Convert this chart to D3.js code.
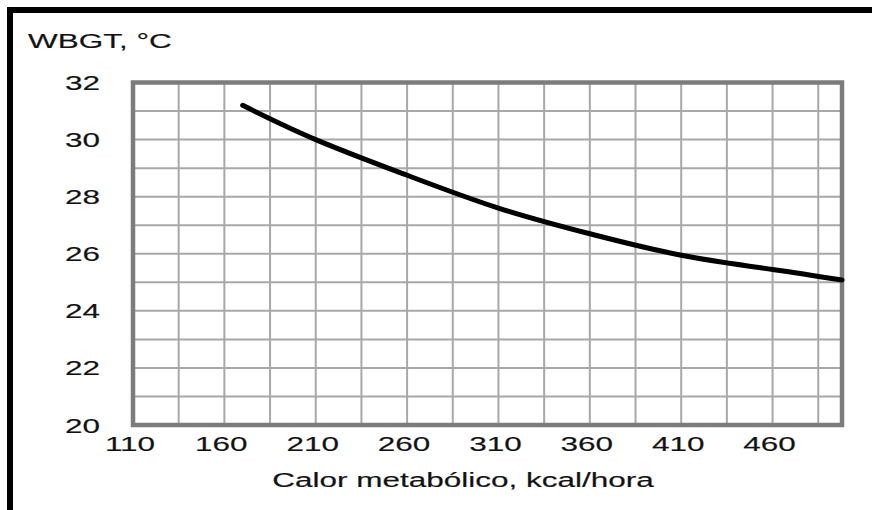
<!DOCTYPE html>
<html>
<head>
<meta charset="utf-8">
<script src="https://cdn.jsdelivr.net/npm/d3@7"></script>
<style>
  html, body { margin: 0; padding: 0; background: #ffffff; }
  svg { display: block; }
</style>
</head>
<body>
<svg id="chart" width="872" height="510"></svg>
<script>
// ---- data ----
const metabolicHeat = [170, 210, 260, 310, 360, 410, 460, 498];
const wbgtValues    = [31.2, 30.0, 28.75, 27.6, 26.7, 25.95, 25.45, 25.08];
const xTickLabels = [110, 160, 210, 260, 310, 360, 410, 460];
const yTickLabels = [20, 22, 24, 26, 28, 30, 32];
const xGridValues = [135, 160, 185, 210, 235, 260, 285, 310, 335, 360, 385, 410, 435, 460, 485];
const yGridValues = [21, 22, 23, 24, 25, 26, 27, 28, 29, 30, 31];
const yAxisTitle = "WBGT, °C";
const xAxisTitle = "Calor metabólico, kcal/hora";

// ---- layout ----
const svg = d3.select("#chart");
const plot = { left: 133, right: 842, top: 82.5, bottom: 425 };
const x = d3.scaleLinear().domain([110, 498]).range([plot.left, plot.right]);
const y = d3.scaleLinear().domain([20, 32]).range([plot.bottom, plot.top]);
const font = "'Liberation Sans', Arial, sans-serif";
const stretch = 1.5;

svg.append("rect").attr("width", 872).attr("height", 510).attr("fill", "#ffffff");

// outer black frame (left and top visible)
svg.append("rect")
  .attr("x", 10).attr("y", 10).attr("width", 1000).attr("height", 1000)
  .attr("fill", "none").attr("stroke", "#000").attr("stroke-width", 6);

// grid
const grid = svg.append("g");
grid.selectAll("line.v").data(xGridValues).enter().append("line")
  .attr("x1", d => x(d)).attr("x2", d => x(d))
  .attr("y1", plot.top).attr("y2", plot.bottom)
  .attr("stroke", "#a8a8a8").attr("stroke-width", 2);
grid.selectAll("line.h").data(yGridValues).enter().append("line")
  .attr("x1", plot.left).attr("x2", plot.right)
  .attr("y1", d => y(d)).attr("y2", d => y(d))
  .attr("stroke", "#a8a8a8").attr("stroke-width", 2);

// plot frame
svg.append("rect")
  .attr("x", plot.left).attr("y", plot.top)
  .attr("width", plot.right - plot.left).attr("height", plot.bottom - plot.top)
  .attr("fill", "none").attr("stroke", "#7c7c7c").attr("stroke-width", 4.5);

// curve
const pts = metabolicHeat.map((d, i) => [d, wbgtValues[i]]);
svg.append("path")
  .datum(pts)
  .attr("fill", "none").attr("stroke", "#000").attr("stroke-width", 5)
  .attr("stroke-linecap", "round")
  .attr("d", d3.line().x(d => x(d[0])).y(d => y(d[1])).curve(d3.curveNatural));

// tick labels
function stretchedText(g, tx, ty, txt, anchor) {
  g.append("text")
    .attr("transform", `translate(${tx},${ty}) scale(${stretch},1)`)
    .attr("text-anchor", anchor)
    .attr("font-family", font).attr("font-size", 21)
    .attr("fill", "#111")
    .attr("stroke", "#333").attr("stroke-width", 0.2)
    .text(txt);
}
const labels = svg.append("g");
xTickLabels.forEach(v => stretchedText(labels, x(v) - 3, 451, v, "middle"));
yTickLabels.forEach(v => stretchedText(labels, 100, y(v) + 7.5, v, "end"));

// axis titles
stretchedText(labels, 28, 48, yAxisTitle, "start");
stretchedText(labels, 463, 486.5, xAxisTitle, "middle");
</script>
</body>
</html>
